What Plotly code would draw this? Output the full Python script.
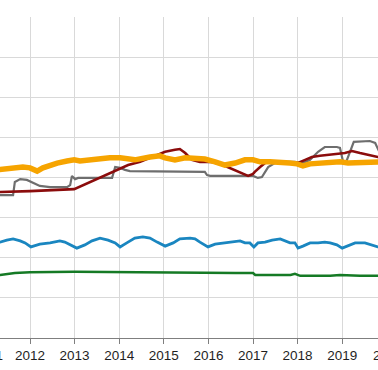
import plotly.graph_objects as go

# Decimal-year positions and values (arbitrary y units, gridlines every 1)
orange_x = [2011.10, 2011.33, 2011.55, 2011.84, 2012.00, 2012.16, 2012.29, 2012.45, 2012.61, 2012.83,
            2012.99, 2013.12, 2013.35, 2013.57, 2013.79, 2014.02, 2014.20, 2014.35, 2014.69, 2014.91,
            2015.03, 2015.25, 2015.48, 2015.70, 2015.92, 2016.15, 2016.37, 2016.60, 2016.82, 2017.00,
            2017.16, 2017.38, 2017.61, 2017.83, 2017.99, 2018.12, 2018.28, 2018.50, 2018.73, 2018.95,
            2019.13, 2019.29, 2019.51, 2019.80, 2020.10]
orange_y = [4.17, 4.19, 4.24, 4.26, 4.24, 4.16, 4.24, 4.31, 4.36, 4.41,
            4.44, 4.41, 4.44, 4.46, 4.49, 4.49, 4.46, 4.44, 4.51, 4.54,
            4.49, 4.44, 4.49, 4.49, 4.46, 4.39, 4.31, 4.36, 4.44, 4.44,
            4.39, 4.39, 4.39, 4.36, 4.34, 4.29, 4.34, 4.36, 4.39, 4.39,
            4.36, 4.36, 4.39, 4.39, 4.40]

gray_x = [2011.10, 2011.62, 2011.66, 2011.78, 2011.93, 2012.07, 2012.22, 2012.45, 2012.83, 2012.90,
          2012.94, 2013.01, 2013.08, 2013.84, 2013.91, 2014.02, 2014.13, 2014.24, 2015.92, 2015.97,
          2016.04, 2017.00, 2017.11, 2017.20, 2017.34, 2017.49, 2017.72, 2017.94, 2018.12, 2018.28,
          2018.46, 2018.61, 2018.88, 2018.95, 2019.02, 2019.09, 2019.17, 2019.26, 2019.62, 2019.74,
          2019.85, 2020.10]
gray_y = [3.56, 3.56, 3.89, 3.96, 3.94, 3.86, 3.79, 3.76, 3.76, 3.81,
          4.04, 3.96, 3.99, 3.99, 4.26, 4.24, 4.19, 4.16, 4.14, 4.06,
          4.04, 4.04, 3.99, 4.01, 4.26, 4.36, 4.39, 4.39, 4.36, 4.44,
          4.64, 4.76, 4.76, 4.74, 4.39, 4.39, 4.61, 4.89, 4.91, 4.86,
          4.60, 4.55]

red_x = [2011.10, 2011.33, 2012.00, 2012.99, 2014.20, 2014.47, 2014.80, 2015.03, 2015.25, 2015.36,
         2015.48, 2015.63, 2015.81, 2016.04, 2016.26, 2016.48, 2016.71, 2016.89, 2017.00, 2017.04,
         2017.16, 2017.27, 2017.38, 2017.61, 2017.83, 2018.01, 2018.17, 2018.32, 2018.50, 2018.73,
         2018.91, 2019.06, 2019.22, 2019.40, 2019.62, 2019.80, 2020.10]
red_y = [3.64, 3.64, 3.66, 3.71, 4.31, 4.39, 4.54, 4.64, 4.69, 4.71,
         4.61, 4.44, 4.39, 4.39, 4.34, 4.24, 4.14, 4.04, 4.09, 4.14,
         4.26, 4.36, 4.39, 4.39, 4.36, 4.36, 4.44, 4.51, 4.54, 4.56,
         4.59, 4.61, 4.66, 4.61, 4.56, 4.51, 4.47]

blue_x = [2011.10, 2011.33, 2011.48, 2011.62, 2011.78, 2011.89, 2012.02, 2012.22, 2012.45, 2012.67,
          2012.78, 2012.90, 2013.05, 2013.23, 2013.39, 2013.57, 2013.75, 2013.91, 2014.02, 2014.17,
          2014.35, 2014.53, 2014.69, 2014.85, 2015.03, 2015.21, 2015.36, 2015.59, 2015.70, 2015.81,
          2015.99, 2016.15, 2016.37, 2016.60, 2016.71, 2016.82, 2016.93, 2017.02, 2017.11, 2017.27,
          2017.43, 2017.61, 2017.72, 2017.83, 2017.94, 2018.01, 2018.12, 2018.28, 2018.46, 2018.61,
          2018.73, 2018.88, 2019.00, 2019.13, 2019.29, 2019.51, 2019.67, 2019.80, 2020.10]
blue_y = [2.42, 2.39, 2.44, 2.47, 2.42, 2.37, 2.27, 2.34, 2.37, 2.42,
          2.39, 2.32, 2.24, 2.32, 2.42, 2.49, 2.44, 2.37, 2.27, 2.37,
          2.49, 2.52, 2.49, 2.39, 2.29, 2.37, 2.47, 2.49, 2.47, 2.39,
          2.27, 2.34, 2.37, 2.39, 2.42, 2.37, 2.37, 2.27, 2.37, 2.39,
          2.44, 2.47, 2.42, 2.37, 2.37, 2.24, 2.29, 2.37, 2.37, 2.39,
          2.37, 2.32, 2.24, 2.29, 2.37, 2.37, 2.32, 2.27, 2.25]

green_x = [2011.10, 2011.33, 2011.66, 2012.00, 2013.00, 2014.00, 2015.00, 2015.70, 2016.60, 2017.00,
           2017.05, 2017.84, 2017.94, 2018.06, 2018.73, 2018.95, 2019.40, 2020.10]
green_y = [1.56, 1.57, 1.62, 1.64, 1.65, 1.64, 1.62, 1.62, 1.62, 1.62,
           1.57, 1.57, 1.60, 1.55, 1.55, 1.57, 1.55, 1.55]

tick_years = [2012, 2013, 2014, 2015, 2016, 2017, 2018, 2019]
tick_labels = ["2012", "2013", "2014", "2015", "2016", "2017", "2018", "2019"]
edge_labels = ["2011", "2020"]

FONT = "Liberation Sans, Arial, sans-serif"

fig = go.Figure()
fig.add_trace(go.Scatter(x=green_x, y=green_y, mode="lines",
                         line=dict(color="#157a25", width=2.5)))
fig.add_trace(go.Scatter(x=blue_x, y=blue_y, mode="lines",
                         line=dict(color="#1a86c0", width=2.8)))
fig.add_trace(go.Scatter(x=gray_x, y=gray_y, mode="lines",
                         line=dict(color="#6e6e6e", width=2.2)))
fig.add_trace(go.Scatter(x=red_x, y=red_y, mode="lines",
                         line=dict(color="#8b0c0c", width=2.6)))
fig.add_trace(go.Scatter(x=orange_x, y=orange_y, mode="lines",
                         line=dict(color="#f6a400", width=5.5)))

fig.update_layout(
    width=378, height=370,
    margin=dict(l=0, r=0, t=17, b=32),
    paper_bgcolor="white", plot_bgcolor="white",
    showlegend=False,
    font=dict(family=FONT, size=13, color="#1f1f1f"),
    xaxis=dict(range=[2011.327, 2019.803], tickvals=tick_years, ticktext=tick_labels,
               showgrid=True, gridcolor="#d9d9d9", gridwidth=1,
               showline=True, linecolor="#7f7f7f", linewidth=1,
               ticks="outside", ticklen=5, tickcolor="#7f7f7f",
               tickfont=dict(family=FONT, size=13.5, color="#1f1f1f"),
               zeroline=False, fixedrange=True),
    yaxis=dict(range=[0, 8], dtick=1, showgrid=True, gridcolor="#d9d9d9", gridwidth=1,
               showticklabels=False, zeroline=False, showline=False, fixedrange=True),
)

# partially visible labels at the cropped edges
for xp, txt in zip([-12 / 378, 388 / 378], edge_labels):
    fig.add_annotation(x=xp, y=-0.056, xref="paper", yref="paper", text=txt,
                       showarrow=False, xanchor="center", yanchor="middle",
                       font=dict(family=FONT, size=13.5, color="#1f1f1f"))

fig.write_html("out.html", config={"displayModeBar": False},
               post_script="document.body.style.margin='0';document.body.style.overflow='hidden';")
